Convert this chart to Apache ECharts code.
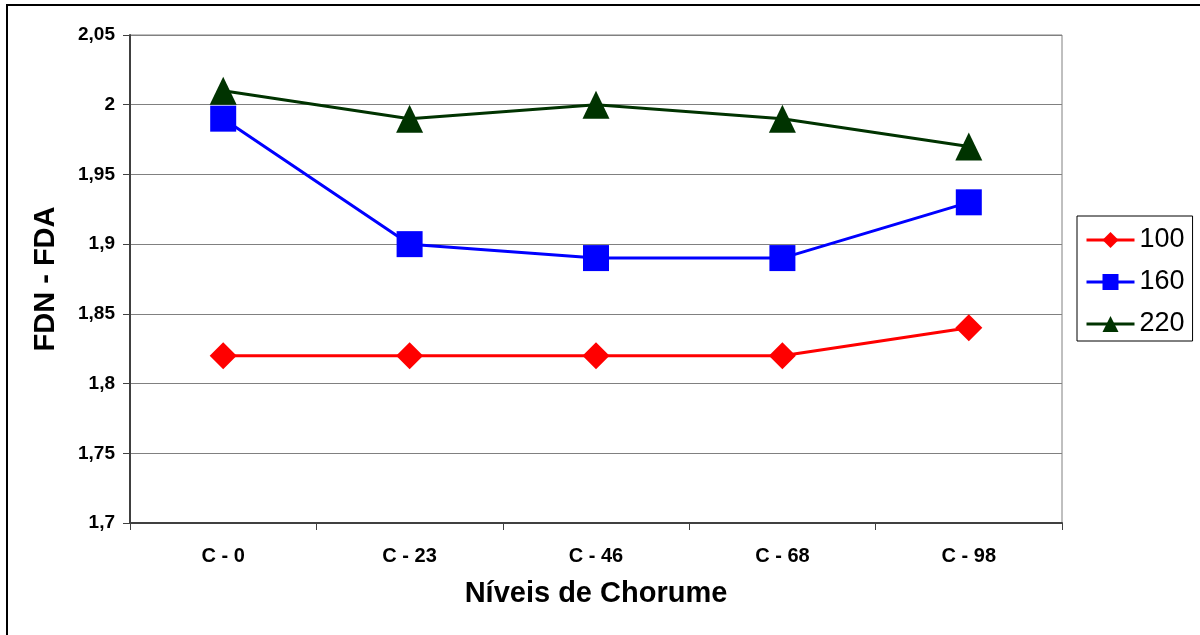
<!DOCTYPE html>
<html>
<head>
<meta charset="utf-8">
<script src="https://cdn.jsdelivr.net/npm/echarts@6/dist/echarts.min.js"></script>
<style>
  html, body { margin: 0; padding: 0; background: #fff; }
  #chart { width: 1200px; height: 635px; }
</style>
</head>
<body>
<div id="chart"></div>
<script>
// ── dados ────────────────────────────────────────────────
const categories = ['C - 0', 'C - 23', 'C - 46', 'C - 68', 'C - 98']
const seriesNames = ['100', '160', '220']
const s100 = [1.82, 1.82, 1.82, 1.82, 1.84]
const s160 = [1.99, 1.90, 1.89, 1.89, 1.93]
const s220 = [2.01, 1.99, 2.00, 1.99, 1.97]

const FONT = 'Liberation Sans, Arial, sans-serif'
const fmt = v => String(parseFloat(v.toFixed(2))).replace('.', ',')

const chart = echarts.init(document.getElementById('chart'), null, { renderer: 'canvas' })

chart.setOption({
  backgroundColor: '#fff',
  animation: false,
  textStyle: { fontFamily: FONT },
  graphic: [{
    type: 'rect',
    shape: { x: 7, y: 5, width: 1300, height: 800 },
    style: { fill: 'none', stroke: '#000', lineWidth: 2 },
    z: 100
  }],
  grid: {
    left: 130, top: 35, right: 138, bottom: 112,
    show: true, borderColor: '#808080', borderWidth: 1
  },
  legend: {
    orient: 'vertical',
    left: 1077, top: 216,
    width: 119,
    padding: [10, 8, 3, 8],
    borderColor: '#000', borderWidth: 1,
    itemWidth: 48, itemHeight: 20, itemGap: 14,
    lineStyle: { width: 3 },
    textStyle: { fontFamily: FONT, fontSize: 27, color: '#000', lineHeight: 28 },
    data: seriesNames
  },
  xAxis: {
    type: 'category',
    data: categories,
    boundaryGap: true,
    name: 'Níveis de Chorume',
    nameLocation: 'middle',
    nameGap: 56,
    nameTextStyle: { fontFamily: FONT, fontSize: 29, fontWeight: 'bold', color: '#000' },
    axisLine: { lineStyle: { color: '#404040', width: 2 } },
    axisTick: { show: true, length: 7, lineStyle: { color: '#404040' } },
    axisLabel: { fontFamily: FONT, fontSize: 20, fontWeight: 'bold', color: '#000', margin: 23 },
    splitLine: { show: false }
  },
  yAxis: {
    type: 'value',
    min: 1.7, max: 2.05, interval: 0.05,
    name: 'FDN - FDA',
    nameLocation: 'middle',
    nameGap: 70,
    nameTextStyle: { fontFamily: FONT, fontSize: 29, fontWeight: 'bold', color: '#000' },
    axisLine: { show: true, lineStyle: { color: '#404040', width: 2 } },
    axisTick: { show: true, length: 7, lineStyle: { color: '#404040' } },
    axisLabel: { fontFamily: FONT, fontSize: 19, fontWeight: 'bold', color: '#000', margin: 15, formatter: fmt },
    splitLine: { lineStyle: { color: '#808080', width: 1 } }
  },
  series: [
    {
      name: seriesNames[0], type: 'line', data: s100,
      symbol: 'diamond', symbolSize: [27, 27],
      lineStyle: { color: '#ff0000', width: 3 },
      itemStyle: { color: '#ff0000' }
    },
    {
      name: seriesNames[1], type: 'line', data: s160,
      symbol: 'rect', symbolSize: [26, 26],
      lineStyle: { color: '#0000ff', width: 3 },
      itemStyle: { color: '#0000ff' }
    },
    {
      name: seriesNames[2], type: 'line', data: s220,
      symbol: 'triangle', symbolSize: [27, 28],
      lineStyle: { color: '#003300', width: 3 },
      itemStyle: { color: '#003300' }
    }
  ]
})
</script>
</body>
</html>
